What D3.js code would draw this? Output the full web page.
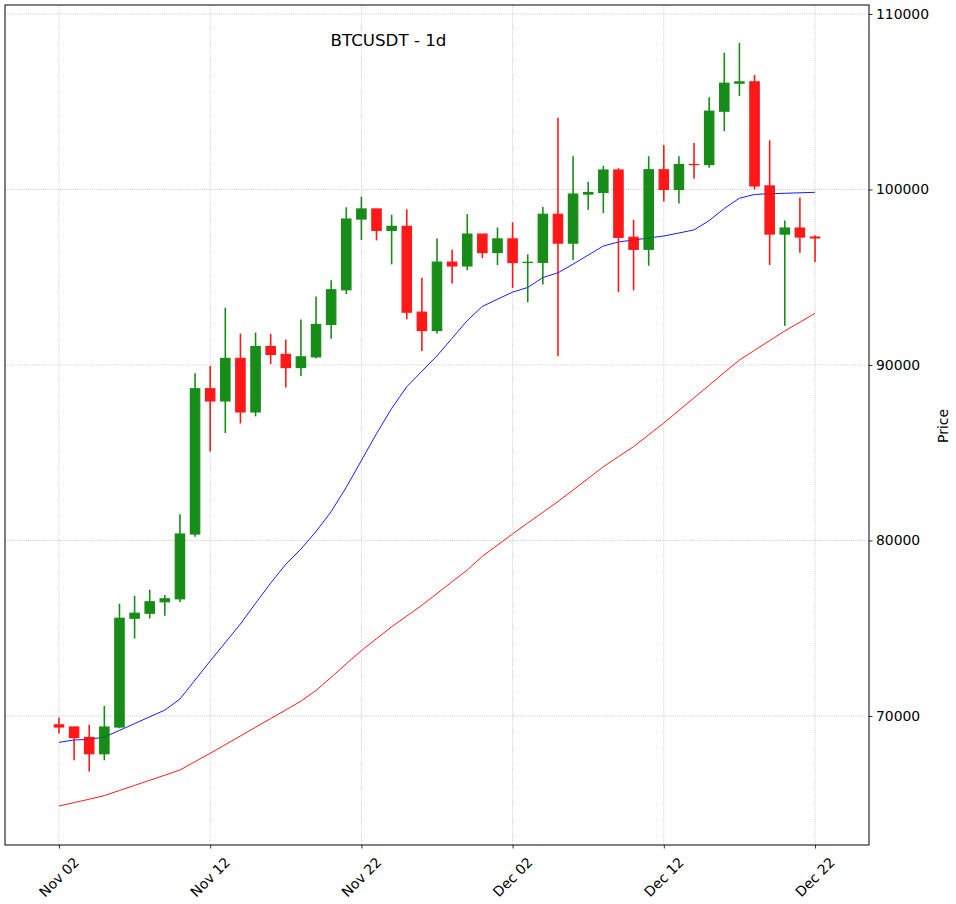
<!DOCTYPE html>
<html>
<head>
<meta charset="utf-8">
<script src="https://cdn.jsdelivr.net/npm/d3@7"></script>
<style>
  html, body { margin: 0; padding: 0; background: #ffffff; }
  svg { display: block; font-family: "DejaVu Sans", sans-serif; }
</style>
</head>
<body>
<svg id="chart" width="956" height="904"></svg>
<script>
// ---------------- data ----------------
const dates = [
  "2024-11-02","2024-11-03","2024-11-04","2024-11-05","2024-11-06","2024-11-07","2024-11-08","2024-11-09","2024-11-10","2024-11-11",
  "2024-11-12","2024-11-13","2024-11-14","2024-11-15","2024-11-16","2024-11-17","2024-11-18","2024-11-19","2024-11-20","2024-11-21",
  "2024-11-22","2024-11-23","2024-11-24","2024-11-25","2024-11-26","2024-11-27","2024-11-28","2024-11-29","2024-11-30","2024-12-01",
  "2024-12-02","2024-12-03","2024-12-04","2024-12-05","2024-12-06","2024-12-07","2024-12-08","2024-12-09","2024-12-10","2024-12-11",
  "2024-12-12","2024-12-13","2024-12-14","2024-12-15","2024-12-16","2024-12-17","2024-12-18","2024-12-19","2024-12-20","2024-12-21",
  "2024-12-22"
];
const openV = [
  69496,69374,68775,67850,69373,75571,75857,76509,76677,80370,
  88647,87952,90375,87325,91056,90605,89855,90465,92310,94286,
  98317,98892,97672,97900,93010,91965,95863,95643,97460,96407,
  97185,95840,95849,98587,96945,99740,99831,101110,97276,96593,
  101125,100004,101424,101420,104463,106058,106133,100204,97461,97805,
  97291
];
const highV = [
  69914,69391,69500,70577,76400,76849,77199,76900,81500,89530,
  89940,93265,91790,91850,91779,91449,92594,93905,94831,98988,
  99588,98892,98564,98871,94973,97208,96564,98600,97463,97836,
  98130,96305,99000,104088,101898,100439,101350,101215,98270,101895,
  102540,101895,102650,105250,107793,108353,106524,102800,98233,99540,
  97400
];
const lowV = [
  69000,67478,66835,67476,69298,74416,75555,75714,76492,80216,
  85072,86127,86668,87073,90056,88722,89376,90375,91500,94040,
  97122,97100,95734,92600,90791,91792,94640,95400,96092,95693,
  94395,93578,94587,90500,95981,98844,98657,94150,94256,95658,
  99311,99205,100610,101237,103333,105321,100000,95700,92232,96398,
  95850
];
const closeV = [
  69374,68775,67850,69373,75571,75857,76509,76677,80370,88647,
  87952,90375,87325,91056,90605,89855,90465,92310,94286,98317,
  98892,97672,97900,93010,91965,95863,95643,97460,96407,97185,
  95840,95849,98587,96945,99740,99831,101110,97276,96593,101125,
  100004,101424,101420,104463,106058,106133,100204,97461,97805,97291,
  97240
];
// moving averages
const maBlue = [
  68501,68632,68672,68798,69179,69567,69954,70336,70969,72051,
  73134,74188,75242,76422,77573,78650,79510,80513,81647,83031,
  84558,86091,87522,88763,89646,90524,91521,92530,93339,93749,
  94154,94416,94986,95254,95749,96262,96781,97009,97122,97236,
  97350,97521,97698,98228,98917,99504,99715,99761,99784,99812,
  99841
];
const maRed = [
  64872,65066,65259,65464,65755,66046,66336,66627,66923,67402,
  67875,68370,68860,69362,69852,70342,70849,71453,72205,72974,
  73727,74405,75088,75692,76313,76980,77652,78319,79100,79738,
  80376,80997,81607,82222,82877,83538,84200,84781,85350,86023,
  86695,87413,88131,88849,89573,90279,90838,91390,91943,92439,
  92946
];
const yTicks = [70000, 80000, 90000, 100000, 110000];
const xTickLabels = ["2024-11-02","2024-11-12","2024-11-22","2024-12-02","2024-12-12","2024-12-22"];
const titleText = "BTCUSDT - 1d";
const yLabel = "Price";

// ---------------- layout ----------------
const L = 5, R = 869, T = 5, B = 845;
const parse = d3.utcParse("%Y-%m-%d");
const DAY = 86400000;
const dts = dates.map(parse);
const pad = 3.57;

const x = d3.scaleUtc()
  .domain([new Date(+dts[0] - pad * DAY), new Date(+dts[dts.length - 1] + pad * DAY)])
  .range([L, R]);
const y = d3.scaleLinear().domain([62650, 110513]).range([B, T]);

const svg = d3.select("#chart");
const fs = 13.9;

// grid
const grid = svg.append("g");
grid.selectAll("line.gy").data(yTicks).join("line")
  .attr("x1", L).attr("x2", R)
  .attr("y1", d => y(d)).attr("y2", d => y(d))
  .attr("stroke", "#b0b0b0").attr("stroke-width", 0.8)
  .attr("stroke-dasharray", "0.8,1.32");
grid.selectAll("line.gx").data(xTickLabels.map(parse)).join("line")
  .attr("x1", d => x(d)).attr("x2", d => x(d))
  .attr("y1", T).attr("y2", B)
  .attr("stroke", "#b0b0b0").attr("stroke-width", 0.8)
  .attr("stroke-dasharray", "0.8,1.32");

// moving averages
const line = arr => d3.line().x((d, i) => x(dts[i])).y(d => y(d))(arr);
svg.append("path").attr("d", line(maBlue)).attr("fill", "none")
  .attr("stroke", "#0000ff").attr("stroke-width", 0.9);
svg.append("path").attr("d", line(maRed)).attr("fill", "none")
  .attr("stroke", "#ff0000").attr("stroke-width", 0.9);

// candles
const candles = dates.map((d, i) => ({ t: dts[i], o: openV[i], h: highV[i], l: lowV[i], c: closeV[i] }));
const bw = (x(dts[1]) - x(dts[0])) * 0.62;
const col = d => d.c >= d.o ? "#008000" : "#ff0000";
const cg = svg.append("g").attr("opacity", 0.9);
cg.selectAll("line.wick").data(candles).join("line")
  .attr("x1", d => x(d.t)).attr("x2", d => x(d.t))
  .attr("y1", d => y(d.h)).attr("y2", d => y(d.l))
  .attr("stroke", col).attr("stroke-width", 1.6);
cg.selectAll("rect.body").data(candles).join("rect")
  .attr("x", d => x(d.t) - bw / 2)
  .attr("width", bw)
  .attr("y", d => y(Math.max(d.o, d.c)))
  .attr("height", d => Math.max(0.01, Math.abs(y(d.o) - y(d.c))))
  .attr("fill", col).attr("stroke", col).attr("stroke-width", 1.2);

// frame
svg.append("rect").attr("x", L).attr("y", T).attr("width", R - L).attr("height", B - T)
  .attr("fill", "none").attr("stroke", "#000").attr("stroke-width", 1);

// right y axis
const yAxis = svg.append("g").attr("transform", `translate(${R},0)`)
  .call(d3.axisRight(y).tickValues(yTicks).tickSize(3.5).tickPadding(3.5).tickFormat(d3.format("d")));
yAxis.select(".domain").remove();
yAxis.selectAll("line").attr("stroke", "#000").attr("stroke-width", 0.8);
yAxis.selectAll("text").attr("font-size", fs).attr("font-family", "DejaVu Sans").attr("fill", "#000");

// bottom x axis
const xAxis = svg.append("g").attr("transform", `translate(0,${B})`)
  .call(d3.axisBottom(x).tickValues(xTickLabels.map(parse)).tickSize(3.5).tickFormat(() => ""));
xAxis.select(".domain").remove();
xAxis.selectAll("line").attr("stroke", "#000").attr("stroke-width", 0.8);

const fmt = d3.utcFormat("%b %d");
svg.append("g").selectAll("text").data(xTickLabels.map(parse)).join("text")
  .attr("x", d => x(d)).attr("y", 877)
  .attr("text-anchor", "middle").attr("dominant-baseline", "central")
  .attr("transform", d => `rotate(-45,${x(d)},877)`)
  .attr("font-size", fs).attr("fill", "#000")
  .text(d => fmt(d));

// y label
svg.append("text").attr("x", 943).attr("y", 426)
  .attr("text-anchor", "middle").attr("dominant-baseline", "central")
  .attr("transform", "rotate(-90,943,426)")
  .attr("font-size", fs).attr("fill", "#000").text(yLabel);

// title
svg.append("text").attr("x", 388.5).attr("y", 40)
  .attr("text-anchor", "middle").attr("dominant-baseline", "central")
  .attr("font-size", 16.67).attr("fill", "#000").text(titleText);
</script>
</body>
</html>
